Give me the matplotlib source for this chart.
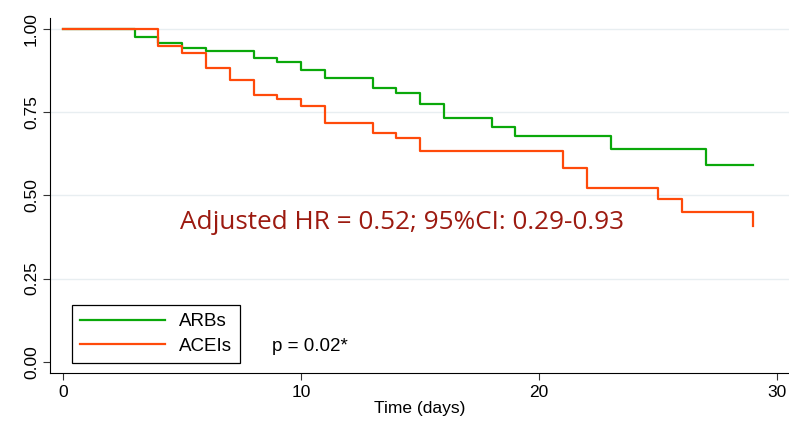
import matplotlib
matplotlib.use('Agg')
import matplotlib.pyplot as plt

# Kaplan-Meier style survival estimates
arbTimes = [0, 3, 4, 5, 6, 8, 9, 10, 11, 13, 14, 15, 16, 18, 19, 23, 27, 29]
arbSurv = [1.0, 0.977, 0.959, 0.942, 0.934, 0.913, 0.902, 0.878, 0.852, 0.824,
           0.809, 0.774, 0.732, 0.706, 0.677, 0.638, 0.590, 0.590]
aceTimes = [0, 4, 5, 6, 7, 8, 9, 10, 11, 13, 14, 15, 21, 22, 25, 26, 29]
aceSurv = [1.0, 0.949, 0.927, 0.882, 0.847, 0.801, 0.790, 0.769, 0.717, 0.688,
           0.671, 0.633, 0.581, 0.523, 0.488, 0.451, 0.408]

xTicks = [0, 10, 20, 30]
yTicks = [0.0, 0.25, 0.5, 0.75, 1.0]
yTickLabels = ['0.00', '0.25', '0.50', '0.75', '1.00']

plt.rcParams['font.family'] = ['Liberation Sans', 'DejaVu Sans']

fig = plt.figure(figsize=(7.89, 4.21), dpi=100)
ax = fig.add_axes([50 / 789, 48 / 421, 739 / 789, 355 / 421])

#horizontal grid
for yv in yTicks[1:]:
    ax.axhline(yv, color='#e8eef1', linewidth=1.0, zorder=0)

#survival curves
ax.plot(arbTimes, arbSurv, drawstyle='steps-post', color='#0aa80a', linewidth=1.6, label='ARBs')
ax.plot(aceTimes, aceSurv, drawstyle='steps-post', color='#ff4a0a', linewidth=1.6, label='ACEIs')

ax.set_xlim(-0.56, 30.5)
ax.set_ylim(-0.034, 1.033)
ax.set_xticks(xTicks)
ax.set_yticks(yTicks)
ax.set_yticklabels(yTickLabels, rotation=90, va='center')
ax.tick_params(axis='both', labelsize=12.5, length=5, width=0.8, color='#333333')
ax.tick_params(axis='y', pad=3)
ax.spines['top'].set_visible(False)
ax.spines['right'].set_visible(False)
ax.spines['left'].set_linewidth(0.8)
ax.spines['bottom'].set_linewidth(0.8)
ax.set_xlabel('Time (days)', fontsize=12.5, labelpad=1)

#annotations
ax.text(4.91, 0.398, 'Adjusted HR = 0.52; 95%CI: 0.29-0.93', color='#9c1a10',
        fontsize=18.8, family=['Open Sans', 'DejaVu Sans'], ha='left', va='baseline')
ax.text(8.78, 0.045, 'p = 0.02*', fontsize=13.5, ha='left', va='center')

leg = ax.legend(loc='lower left', bbox_to_anchor=(0.0298, 0.028), fontsize=13.5,
                handlelength=4.5, handletextpad=0.75, labelspacing=0.38,
                borderaxespad=0, borderpad=0.45, fancybox=False, framealpha=1)
leg.get_frame().set_edgecolor('black')
leg.get_frame().set_linewidth(0.9)

plt.savefig('out.png', dpi=100)
